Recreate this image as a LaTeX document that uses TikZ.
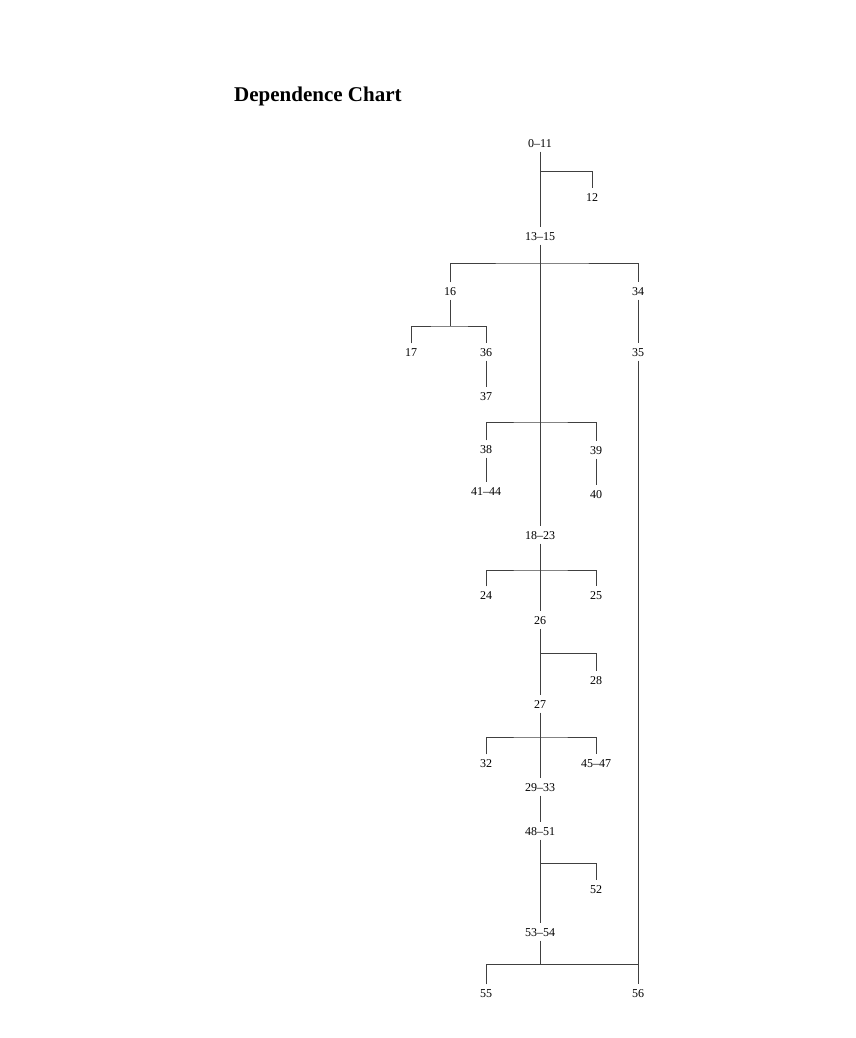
\documentclass[tikz,border=0pt]{standalone}
\usepackage{fontspec}
\setmainfont{Liberation Serif}
\newcommand\labfont{\fontsize{12}{12}\selectfont}
\newcommand\titlefont{\fontsize{21}{21}\selectfont\bfseries}
\begin{document}
\begin{tikzpicture}[x=1pt,y=-1pt,
  lbl/.style={font=\labfont, inner xsep=1pt, inner ysep=4.5pt, text height=8pt, text depth=0pt},
  conn/.style={line width=0.7pt, draw=black!75}]
\useasboundingbox (0,0) rectangle (856,1038);
\node[font=\titlefont, anchor=base west, inner sep=0pt] (title) at (234,102) {Dependence Chart};
% nodes
\node[lbl] (n0)  at (540,143) {0--11};
\node[lbl] (n12) at (592,197) {12};
\node[lbl] (n13) at (540,236) {13--15};
\node[lbl] (n16) at (450,291) {16};
\node[lbl] (n34) at (638,291) {34};
\node[lbl] (n17) at (411,352) {17};
\node[lbl] (n36) at (486,352) {36};
\node[lbl] (n35) at (638,352) {35};
\node[lbl] (n37) at (486,396) {37};
\node[lbl] (n38) at (486,449) {38};
\node[lbl] (n39) at (596,450) {39};
\node[lbl] (n41) at (486,491) {41--44};
\node[lbl] (n40) at (596,494) {40};
\node[lbl] (n18) at (540,535) {18--23};
\node[lbl] (n24) at (486,595) {24};
\node[lbl] (n25) at (596,595) {25};
\node[lbl] (n26) at (540,620) {26};
\node[lbl] (n28) at (596,680) {28};
\node[lbl] (n27) at (540,704) {27};
\node[lbl] (n32) at (486,763) {32};
\node[lbl] (n45) at (596,763) {45--47};
\node[lbl] (n29) at (540,787) {29--33};
\node[lbl] (n48) at (540,831) {48--51};
\node[lbl] (n52) at (596,889) {52};
\node[lbl] (n53) at (540,932) {53--54};
\node[lbl] (n55) at (486,993) {55};
\node[lbl] (n56) at (638,993) {56};
% junctions
\coordinate (j12) at (540,171);
\coordinate (jA) at (540,263);
\coordinate (jB) at (450,326);
\coordinate (jC) at (540,422);
\coordinate (jD) at (540,570);
\coordinate (jE) at (540,653);
\coordinate (jF) at (540,737);
\coordinate (jG) at (540,863);
\coordinate (jH) at (540,964);
% connectors
\draw[conn] (n0) -- (n13);
\draw[conn] (j12) -| (n12);
\draw[conn] (n13) -- (n18);
\draw[conn] (n16) |- (jA) -| (n34);
\draw[conn] (n34) -- (n35);
\draw[conn] (n35) -- (n56);
\draw[conn] (n16) -- (jB);
\draw[conn] (n17) |- (jB) -| (n36);
\draw[conn] (n36) -- (n37);
\draw[conn] (n38) |- (jC) -| (n39);
\draw[conn] (n38) -- (n41);
\draw[conn] (n39) -- (n40);
\draw[conn] (n18) -- (n26);
\draw[conn] (n24) |- (jD) -| (n25);
\draw[conn] (n26) -- (n27);
\draw[conn] (jE) -| (n28);
\draw[conn] (n27) -- (n29);
\draw[conn] (n32) |- (jF) -| (n45);
\draw[conn] (n29) -- (n48);
\draw[conn] (n48) -- (n53);
\draw[conn] (jG) -| (n52);
\draw[conn] (n53) -- (jH);
\draw[conn] (n55) |- (n56 |- jH);
\end{tikzpicture}
\end{document}
